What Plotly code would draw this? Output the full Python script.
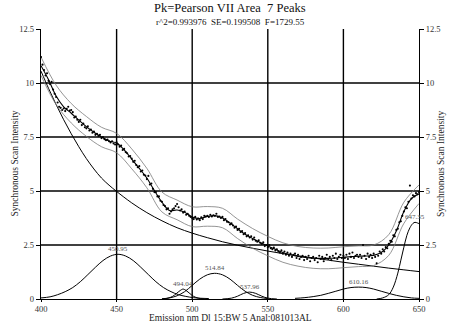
import plotly.graph_objects as go

# Measured spectrum, 1 nm steps
wl = list(range(400, 651))
intensity = [
    11.2, 10.85, 10.6, 10.35, 10.45, 10.1, 9.95, 10.05, 9.7, 9.5,
    9.35, 9.1, 8.9, 8.85, 8.75, 8.82, 8.7, 8.8, 8.9, 8.72,
    8.75, 8.65, 8.4, 8.45, 8.3, 8.2, 8.3, 8.05, 8.12, 7.95,
    7.9, 8.0, 7.8, 7.85, 7.7, 7.75, 7.6, 7.65, 7.55, 7.6,
    7.45, 7.5, 7.4, 7.35, 7.38, 7.3, 7.25, 7.3, 7.2, 7.15,
    7.25, 7.15, 7.05, 7.1, 6.9, 6.95, 6.8, 6.75, 6.6, 6.62,
    6.5, 6.35, 6.4, 6.2, 6.1, 6.15, 5.9, 5.95, 5.75, 5.72,
    5.55, 5.7, 5.3, 5.35, 5.1, 4.95, 4.95, 4.75, 4.75, 4.55,
    4.5, 4.35, 4.3, 4.15, 4.2, 3.95, 4.05, 4.15, 4.2, 4.3,
    4.4, 4.25, 4.1, 4.15, 4.0, 4.05, 3.9, 3.95, 3.85, 3.8,
    3.75, 3.7, 3.8, 3.68, 3.72, 3.65, 3.78, 3.7, 3.85, 3.82,
    3.85, 3.8, 3.9, 3.82, 3.88, 3.85, 3.95, 3.8, 3.82, 3.75,
    3.8, 3.65, 3.7, 3.58, 3.55, 3.45, 3.5, 3.4, 3.3, 3.35,
    3.2, 3.25, 3.1, 3.15, 3.0, 3.05, 2.9, 2.95, 2.85, 2.9,
    2.75, 2.85, 2.7, 2.65, 2.72, 2.6, 2.55, 2.62, 2.45, 2.5,
    2.4, 2.5, 2.35, 2.3, 2.38, 2.25, 2.3, 2.2, 2.15, 2.25,
    2.1, 2.2, 2.05, 2.15, 2.0, 2.1, 1.95, 2.05, 2.1, 1.9,
    2.05, 1.85, 1.95, 2.0, 1.8, 1.95, 1.85, 2.0, 1.75, 1.9,
    1.95, 1.8, 1.9, 1.7, 2.0, 1.85, 1.95, 1.75, 1.9, 2.05,
    1.85, 1.95, 1.8, 2.0, 1.9, 2.1, 1.85, 1.95, 2.05, 1.9,
    2.0, 1.9, 2.05, 1.85, 2.1, 1.95, 2.15, 1.9, 2.0, 2.05,
    1.95, 2.05, 1.9, 2.5, 2.0, 1.85, 2.1, 1.95, 2.05, 1.9,
    2.1, 1.95, 1.65, 2.0, 2.2, 2.1, 2.3, 2.2, 2.4, 2.35,
    2.55, 2.7, 2.65, 2.95, 2.9, 3.2, 3.25, 3.55, 3.6, 3.85,
    4.05, 4.25, 4.2, 4.5, 5.25, 4.65, 4.8, 4.75, 4.9, 4.85, 4.95,
]

# Fitted total, 5 nm steps
fit_x = list(range(400, 651, 5))
fit_y = [
    10.8, 10.15, 9.4, 8.9, 8.6, 8.28, 7.98, 7.72, 7.5, 7.32,
    7.22, 6.9, 6.48, 6.05, 5.6, 5.02, 4.48, 4.1, 4.12, 4.02,
    3.8, 3.73, 3.82, 3.86, 3.75, 3.52, 3.25, 3.0, 2.8, 2.62,
    2.45, 2.3, 2.15, 2.05, 1.97, 1.92, 1.89, 1.88, 1.88, 1.9,
    1.93, 1.96, 1.98, 1.99, 2.02, 2.15, 2.5, 3.15, 4.05, 4.65, 4.87,
]

# Confidence band, 10 nm steps
band_x = list(range(400, 651, 10))
band_upper = [
    11.2, 9.9, 9.05, 8.45, 7.95, 7.67, 6.95, 6.05, 4.95, 4.58,
    4.27, 4.28, 4.2, 3.7, 3.26, 2.9, 2.6, 2.43, 2.36, 2.36,
    2.42, 2.46, 2.5, 2.98, 4.48, 5.28,
]
band_lower = [
    10.35, 9.0, 8.15, 7.53, 7.05, 6.77, 6.03, 5.15, 4.03, 3.67,
    3.35, 3.37, 3.3, 2.8, 2.35, 2.0, 1.7, 1.52, 1.42, 1.4,
    1.45, 1.5, 1.55, 2.02, 3.5, 4.42,
]

# Unlabelled component centred below 400 nm
decay_x = [400, 405, 410, 415, 420, 425, 430, 435, 440, 445, 450, 460, 470, 480,
           490, 500, 510, 520, 530, 540, 550, 560, 570, 580, 590, 600, 610, 620,
           630, 640, 650]
decay_y = [10.55, 9.75, 9.0, 8.3, 7.65, 7.05, 6.5, 6.02, 5.6, 5.27, 4.98, 4.45,
           4.0, 3.62, 3.3, 3.05, 2.84, 2.65, 2.49, 2.35, 2.22, 2.1, 2.0, 1.9,
           1.8, 1.7, 1.61, 1.52, 1.43, 1.35, 1.27]

# Labelled Pearson VII components
peak_centers = [450.95, 494.04, 514.84, 537.96, 610.16, 647.35]
peak_heights = [2.07, 0.46, 1.19, 0.32, 0.55, 3.55]

p451_x = [400, 406, 411, 416, 421, 426, 431, 436, 441, 446, 450.95, 456, 461,
          466, 471, 476, 481, 486, 491, 501, 511]
p451_y = [0.05, 0.1, 0.2, 0.34, 0.53, 0.8, 1.13, 1.47, 1.78, 1.99, 2.07, 1.99,
          1.78, 1.47, 1.13, 0.8, 0.53, 0.34, 0.2, 0.06, 0.02]
p494_x = [480, 484, 487, 489.5, 492, 494.04, 496, 498.5, 501, 504, 508]
p494_y = [0.0, 0.04, 0.12, 0.25, 0.39, 0.46, 0.39, 0.25, 0.12, 0.04, 0.0]
p515_x = [480, 485, 490, 495, 500, 505, 510, 514.84, 520, 525, 530, 535, 540, 545, 550]
p515_y = [0.01, 0.05, 0.15, 0.34, 0.63, 0.92, 1.12, 1.19, 1.12, 0.92, 0.63, 0.36,
          0.17, 0.07, 0.02]
p538_x = [520, 526, 530, 534, 537.96, 542, 546, 550, 556]
p538_y = [0.0, 0.04, 0.13, 0.26, 0.32, 0.26, 0.13, 0.04, 0.0]
p610_x = [568, 574, 580, 585, 590, 595, 600, 605, 610.16, 615, 620, 625, 630,
          635, 640, 645, 650]
p610_y = [0.03, 0.06, 0.11, 0.17, 0.26, 0.36, 0.46, 0.53, 0.55, 0.53, 0.46, 0.36,
          0.26, 0.17, 0.1, 0.05, 0.03]
p647_x = [622, 626, 630, 633, 636, 638, 640, 642, 644, 646, 647.35, 649, 650]
p647_y = [0.0, 0.05, 0.2, 0.55, 1.2, 1.8, 2.4, 2.95, 3.3, 3.5, 3.55, 3.52, 3.49]

peak_curves = [(p451_x, p451_y), (p494_x, p494_y), (p515_x, p515_y),
               (p538_x, p538_y), (p610_x, p610_y), (p647_x, p647_y)]

x_ticks = [400, 450, 500, 550, 600, 650]
y_ticks = [0, 2.5, 5, 7.5, 10, 12.5]
y_tick_text = ["0", "2.5", "5", "7.5", "10", "12.5"]

title = "Pk=Pearson VII Area  7 Peaks"
subtitle = "r^2=0.993976  SE=0.199508  F=1729.55"
x_title = "Emission nm Dl 15:BW 5 Anal:081013AL"
y_title = "Synchronous Scan Intensity"

FONT = "Times New Roman, Liberation Serif, serif"
X0, X1 = 400, 650
Y0, Y1 = 0, 12.5

fig = go.Figure()

# components
fig.add_trace(go.Scatter(x=decay_x, y=decay_y, mode="lines",
                         line=dict(color="black", width=1, shape="spline"),
                         hoverinfo="skip"))
for px, py in peak_curves:
    fig.add_trace(go.Scatter(x=px, y=py, mode="lines",
                             line=dict(color="black", width=1, shape="spline"),
                             hoverinfo="skip"))

# confidence band
for by in (band_upper, band_lower):
    fig.add_trace(go.Scatter(x=band_x, y=by, mode="lines",
                             line=dict(color="#7a7a7a", width=0.8, shape="spline"),
                             hoverinfo="skip"))

# total fit
fig.add_trace(go.Scatter(x=fit_x, y=fit_y, mode="lines",
                         line=dict(color="black", width=1.1, shape="spline")))

# measured points
fig.add_trace(go.Scatter(x=wl, y=intensity, mode="markers",
                         marker=dict(color="black", size=2.1, symbol="circle",
                                     line=dict(width=0))))

# mirror axis on the right
fig.add_trace(go.Scatter(x=[X0], y=[Y0], yaxis="y2", mode="markers",
                         marker=dict(opacity=0), hoverinfo="skip"))

# grid
shapes = []
for xv in x_ticks[1:-1]:
    shapes.append(dict(type="line", xref="x", yref="y", x0=xv, x1=xv, y0=Y0, y1=Y1,
                       line=dict(color="black", width=1.4), layer="below"))
for yv in y_ticks[1:-1]:
    shapes.append(dict(type="line", xref="x", yref="y", x0=X0, x1=X1, y0=yv, y1=yv,
                       line=dict(color="black", width=1.4), layer="below"))

annotations = []
for c, h in zip(peak_centers, peak_heights):
    annotations.append(dict(x=c, y=h, xref="x", yref="y", text=f"{c:.2f}",
                            showarrow=False, yanchor="bottom", yshift=-1,
                            font=dict(family=FONT, size=7, color="#555555")))

annotations += [
    dict(x=0.5, y=1.077, xref="paper", yref="paper", text=title, showarrow=False,
         font=dict(family=FONT, size=12.5, color="#111111"), yanchor="middle"),
    dict(x=0.5, y=1.027, xref="paper", yref="paper", text=subtitle, showarrow=False,
         font=dict(family=FONT, size=9, color="#111111"), yanchor="middle"),
    dict(x=0.5, y=-0.07, xref="paper", yref="paper", text=x_title, showarrow=False,
         font=dict(family=FONT, size=9.5, color="#222222"), yanchor="middle"),
    dict(x=-0.07, y=0.5, xref="paper", yref="paper", text=y_title, showarrow=False,
         textangle=-90, font=dict(family=FONT, size=9.5, color="#222222"),
         xanchor="center", yanchor="middle"),
    dict(x=1.058, y=0.5, xref="paper", yref="paper", text=y_title, showarrow=False,
         textangle=-90, font=dict(family=FONT, size=9.5, color="#222222"),
         xanchor="center", yanchor="middle"),
]

tickfont = dict(family=FONT, size=8.5, color="#333333")
fig.update_layout(
    width=453, height=326,
    margin=dict(l=41, r=27, t=29, b=25),
    paper_bgcolor="white", plot_bgcolor="white",
    showlegend=False,
    shapes=shapes,
    annotations=annotations,
    xaxis=dict(range=[X0, X1], tickvals=x_ticks, ticktext=[str(v) for v in x_ticks],
               showgrid=False, zeroline=False, showline=True, linecolor="black",
               linewidth=1.4, ticks="outside", ticklen=2, tickcolor="black",
               tickfont=tickfont, mirror=False),
    yaxis=dict(range=[Y0, Y1], tickvals=y_ticks, ticktext=y_tick_text,
               showgrid=False, zeroline=False, showline=True, linecolor="black",
               linewidth=1.4, ticks="outside", ticklen=4, tickcolor="black",
               tickfont=tickfont),
    yaxis2=dict(range=[Y0, Y1], tickvals=y_ticks, ticktext=y_tick_text,
                overlaying="y", side="right", showgrid=False, zeroline=False,
                showline=True, linecolor="black", linewidth=1, ticks="outside",
                ticklen=4, tickcolor="black", tickfont=tickfont),
)

fig.write_html("out.html")
